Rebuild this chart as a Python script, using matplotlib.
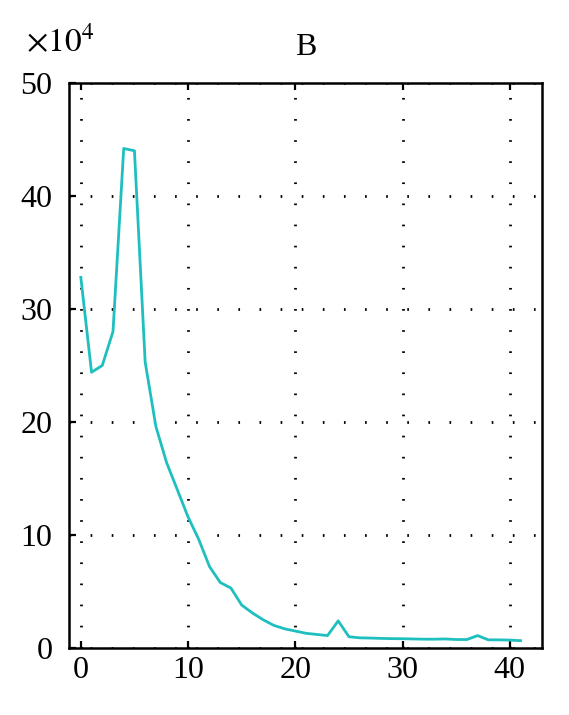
import matplotlib
matplotlib.use("Agg")
import matplotlib.pyplot as plt

# values in units of 1e4
x = list(range(42))
y = [32.8, 24.4, 25.0, 28.0, 44.2, 44.0, 25.3, 19.6, 16.4, 14.0,
     11.6, 9.6, 7.2, 5.8, 5.3, 3.8, 3.1, 2.5, 2.0, 1.7,
     1.5, 1.3, 1.2, 1.1, 2.4, 1.0, 0.9, 0.88, 0.85, 0.83,
     0.82, 0.8, 0.78, 0.78, 0.8, 0.75, 0.75, 1.1, 0.72, 0.72,
     0.7, 0.65]
xticks = [0, 10, 20, 30, 40]
yticks = [0, 10, 20, 30, 40, 50]

plt.rcParams["font.family"] = ["Liberation Serif", "DejaVu Serif"]
plt.rcParams["mathtext.fontset"] = "stix"

fig = plt.figure(figsize=(5.69, 7.15), dpi=100)
ax = fig.add_axes([0.1213, 0.0937, 0.8312, 0.7903])

ax.plot(x, y, color="#1fbfbf", lw=2.0)

ax.set_xlim(-1.1, 43.0)
ax.set_ylim(0, 50)
ax.set_xticks(xticks)
ax.set_yticks(yticks)
ax.tick_params(direction="in", length=5, width=1.6, labelsize=23,
               top=True, right=False)
ax.tick_params(axis="x", pad=6)
ax.tick_params(axis="y", pad=12)
for s in ax.spines.values():
    s.set_linewidth(1.8)
ax.grid(True, color="black", linestyle=(0, (0.6, 7.0)), linewidth=2.0)

ax.set_title("B", fontsize=23, pad=20)
fig.text(0.045, 0.918, r"$\times10^4$", fontsize=24, ha="left", va="bottom")

fig.savefig("out.png", dpi=100)
